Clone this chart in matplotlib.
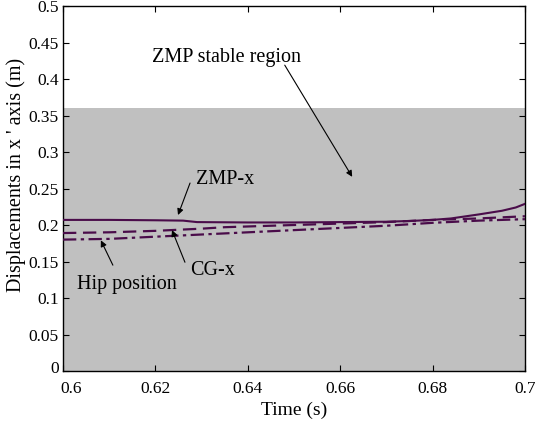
import numpy as np
import matplotlib
matplotlib.use("Agg")
import matplotlib.pyplot as plt
import matplotlib.transforms as mtransforms

plt.rcParams['font.family'] = ['Liberation Serif', 'DejaVu Serif']

# ZMP-x trajectory
t_zmp = [0.6, 0.61, 0.62, 0.626, 0.629, 0.64, 0.65, 0.66, 0.67, 0.675, 0.68,
         0.684, 0.69, 0.695, 0.698, 0.7]
zmp_x = [0.207, 0.207, 0.2065, 0.206, 0.204, 0.2035, 0.2035, 0.204, 0.2045,
         0.2055, 0.207, 0.209, 0.2145, 0.2195, 0.224, 0.229]

# CG-x trajectory
t_cg = [0.6, 0.61, 0.62, 0.63, 0.635, 0.64, 0.65, 0.66, 0.67, 0.68, 0.69, 0.7]
cg_x = [0.189, 0.190, 0.192, 0.195, 0.197, 0.198, 0.200, 0.202, 0.204, 0.207,
        0.209, 0.212]

# Hip position
t_hip = [0.6, 0.61, 0.62, 0.63, 0.64, 0.65, 0.66, 0.67, 0.68, 0.69, 0.7]
hip_x = [0.180, 0.181, 0.184, 0.187, 0.190, 0.193, 0.196, 0.199, 0.203, 0.206,
         0.208]

stable_top = 0.36

xticks = [0.6, 0.62, 0.64, 0.66, 0.68, 0.7]
xlabels = ['0.6', '0.62', '0.64', '0.66', '0.68', '0.7']
yticks = [0, 0.05, 0.1, 0.15, 0.2, 0.25, 0.3, 0.35, 0.4, 0.45, 0.5]
ylabels = ['0', '0.05', '0.1', '0.15', '0.2', '0.25', '0.3', '0.35', '0.4', '0.45', '0.5']

line_col = '#4a0c4a'
fs_tick = 12.5
fs_txt = 14.5

fig = plt.figure(figsize=(5.51, 4.23), dpi=100)
ax = fig.add_axes([0.1143, 0.1229, 0.8385, 0.8629])

ax.fill_between([0.6, 0.7], 0, stable_top, color='#c0c0c0', lw=0, zorder=1)

ax.plot(t_zmp, zmp_x, '-', color=line_col, lw=1.5, zorder=3)
ax.plot(t_cg, cg_x, '--', color=line_col, lw=1.6, dashes=(6, 3), zorder=3)
ax.plot(t_hip, hip_x, '-.', color=line_col, lw=1.6, dashes=(6, 2, 1.5, 2), zorder=3)

ax.set_xlim(0.6, 0.7)
ax.set_ylim(0, 0.5)
ax.set_xticks(xticks)
ax.set_xticklabels(xlabels)
ax.set_yticks(yticks)
ax.set_yticklabels(ylabels)
ax.tick_params(direction='in', top=True, right=True, labelsize=fs_tick, length=4)
ax.tick_params(axis='x', pad=7)
ax.tick_params(axis='y', pad=3)
for s in ax.spines.values():
    s.set_linewidth(1.0)
    s.set_zorder(2)

# first x label sits a little to the right, like the original
first = ax.get_xticklabels()[0]
first.set_transform(first.get_transform() +
                    mtransforms.ScaledTranslation(8 / 100, 0, fig.dpi_scale_trans))
y0 = ax.get_yticklabels()[0]
y0.set_transform(y0.get_transform() +
                 mtransforms.ScaledTranslation(0, 4 / 100, fig.dpi_scale_trans))

ax.set_xlabel('Time (s)', fontsize=14)
ax.xaxis.set_label_coords(0.5, -0.085)
ax.set_ylabel("Displacements in x ' axis (m)", fontsize=14.5)
ax.yaxis.set_label_coords(-0.08, 0.537)

arrow = dict(arrowstyle='-|>', color='black', lw=0.8, mutation_scale=9,
             shrinkA=0, shrinkB=0)
ax.text(0.6193, 0.430, 'ZMP stable region', fontsize=fs_txt, va='center', ha='left')
ax.annotate('', xy=(0.6626, 0.266), xytext=(0.648, 0.419), arrowprops=arrow)
ax.text(0.6288, 0.263, 'ZMP-x', fontsize=fs_txt, va='center', ha='left')
ax.annotate('', xy=(0.6249, 0.2137), xytext=(0.6275, 0.2575), arrowprops=arrow)
ax.text(0.6275, 0.138, 'CG-x', fontsize=fs_txt, va='center', ha='left')
ax.annotate('', xy=(0.6236, 0.193), xytext=(0.6264, 0.149), arrowprops=arrow)
ax.text(0.603, 0.118, 'Hip position', fontsize=fs_txt, va='center', ha='left')
ax.annotate('', xy=(0.6082, 0.179), xytext=(0.6108, 0.145), arrowprops=arrow)

fig.savefig('out.png', dpi=100)
